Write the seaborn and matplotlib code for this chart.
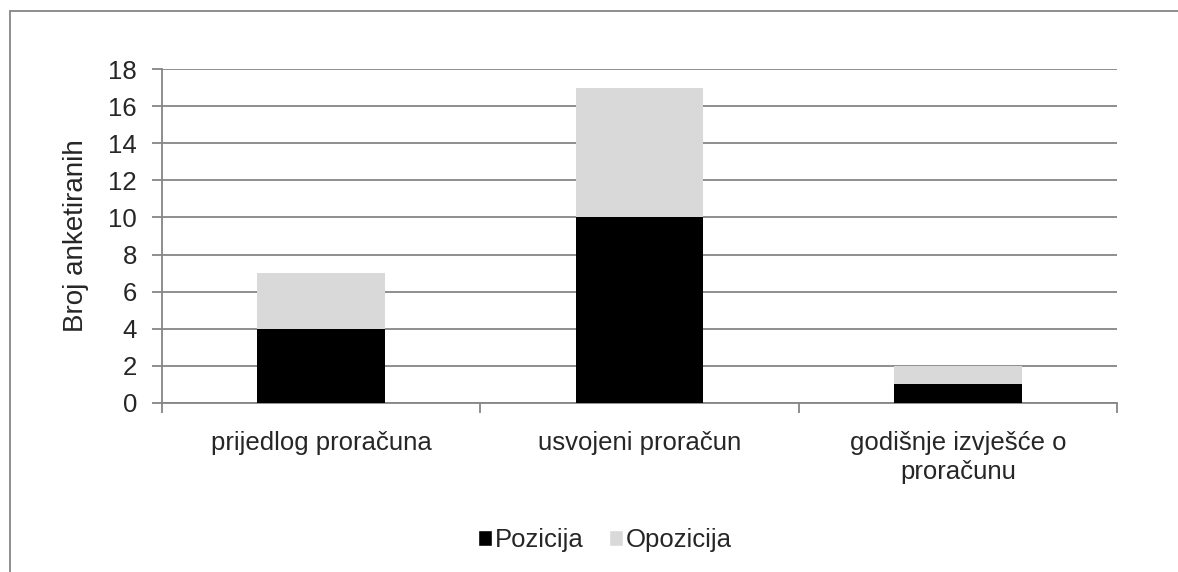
import pandas as pd
import seaborn as sns
import matplotlib.pyplot as plt
from matplotlib.patches import Patch
from matplotlib.lines import Line2D

# Data
categories = ['prijedlog proračuna', 'usvojeni proračun', 'godišnje izvješće o\nproračunu']
pozicija = [4, 10, 1]
opozicija = [3, 7, 1]
yticks = [0, 2, 4, 6, 8, 10, 12, 14, 16, 18]

df = pd.DataFrame({'kategorija': categories, 'Pozicija': pozicija, 'Opozicija': opozicija})
df['ukupno'] = df['Pozicija'] + df['Opozicija']

sns.set_style('white')
plt.rcParams['font.family'] = ['Liberation Sans', 'DejaVu Sans']

grey = '#868686'
fs = 18.5
fig = plt.figure(figsize=(11.78, 5.72), dpi=100)
ax = fig.add_axes([162 / 1178, 169 / 572, 955 / 1178, 334 / 572])

# stacked: total in light grey, bottom part in black on top of it
sns.barplot(data=df, x='kategorija', y='ukupno', color='#d9d9d9', width=0.4,
            saturation=1, linewidth=0, ax=ax, zorder=3)
sns.barplot(data=df, x='kategorija', y='Pozicija', color='#000000', width=0.4,
            saturation=1, linewidth=0, ax=ax, zorder=4)

ax.set_xlim(-0.5, 2.5)
ax.set_ylim(0, 18)
ax.set_yticks(yticks)
ax.yaxis.grid(True, color=grey, linewidth=1.3, zorder=0)
ax.set_axisbelow(True)
for s in ['top', 'right']:
    ax.spines[s].set_visible(False)
for s in ['left', 'bottom']:
    ax.spines[s].set_color(grey)
    ax.spines[s].set_linewidth(1.3)

ax.tick_params(axis='y', which='major', length=7, width=1.3, color=grey,
               labelsize=fs, pad=11, direction='out', left=True)
ax.set_xticks([0, 1, 2])
ax.set_xticklabels(categories, fontsize=fs, linespacing=1.25)
ax.tick_params(axis='x', which='major', length=0, pad=20)
ax.set_xticks([-0.5, 0.5, 1.5, 2.5], minor=True)
ax.tick_params(axis='x', which='minor', length=7, width=1.3, color=grey,
               direction='out', bottom=True)
ax.set_xlabel('')
ax.set_ylabel('Broj anketiranih', fontsize=20, labelpad=14)

handles = [Patch(facecolor='#000000', label='Pozicija'),
           Patch(facecolor='#d9d9d9', label='Opozicija')]
fig.legend(handles=handles, loc='center', bbox_to_anchor=(605 / 1178, 1 - 540 / 572),
           ncol=2, frameon=False, fontsize=fs, handlelength=0.55,
           handleheight=0.55, handletextpad=0.1, columnspacing=1.0,
           borderpad=0)

# outer chart frame (top and left edges visible)
fig.add_artist(Line2D([9.5 / 1178, 1.0], [1 - 10.5 / 572, 1 - 10.5 / 572],
                      transform=fig.transFigure, color=grey, linewidth=1.3))
fig.add_artist(Line2D([9.5 / 1178, 9.5 / 1178], [0, 1 - 10.5 / 572],
                      transform=fig.transFigure, color=grey, linewidth=1.3))

fig.savefig('out.png', dpi=100)
